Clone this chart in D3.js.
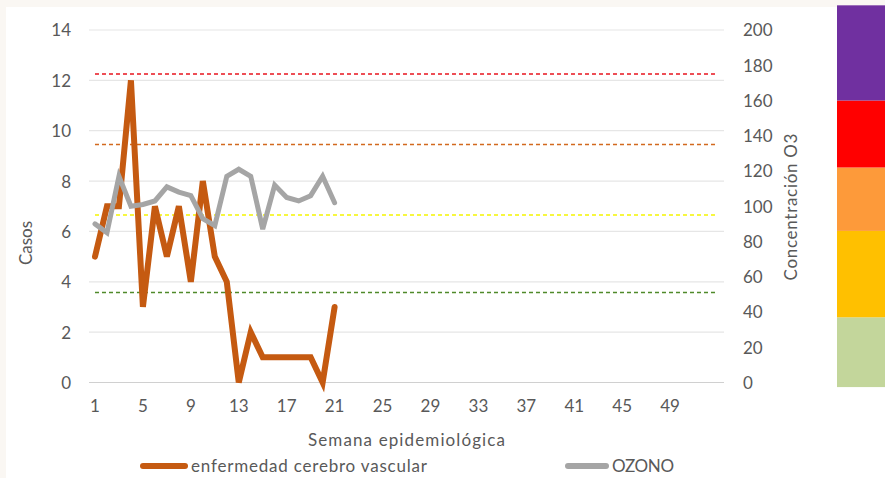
<!DOCTYPE html>
<html><head><meta charset="utf-8">
<script src="https://cdn.jsdelivr.net/npm/d3@7"></script>
<style>
html,body{margin:0;padding:0;background:#faf7f3;}
svg{display:block;}
text{font-family:Lato,"Open Sans",sans-serif;fill:#595959;}
</style></head>
<body>
<svg id="chart" width="885" height="478"></svg>
<script>
// ---- data ----
const weeks = d3.range(1, 54);              // 53 epidemiological weeks
const weekTicks = [1,5,9,13,17,21,25,29,33,37,41,45,49];
const casos = [5,7,7,12,3,7,5,7,4,8,5,4,0,2,1,1,1,1,1,0,3];
const ozono = [90,85,117,100,101,103,111,108,106,93,89,117,121,117,87,112,105,103,106,117,102];
const leftTicks = [0,2,4,6,8,10,12,14];
const rightTicks = [0,20,40,60,80,100,120,140,160,180,200];
const thresholdValues = [51,95,135,175];
const thresholdColors = ["#4f8a2a","#f5f500","#d2691e","#e8141e"];
const bandStops = [-2.6,37,86,122,160,214];
const bandColors = ["#c3d69b","#ffc000","#fd9a3a","#ff0000","#7030a0"];
const seriesNames = ["enfermedad cerebro vascular","OZONO"];
const seriesColors = ["#c55a11","#a5a5a5"];

// ---- layout ----
const svg = d3.select("#chart");
const L = 89, R = 724, T = 30, B = 382.5;
svg.append("rect").attr("x",6).attr("y",7).attr("width",879).attr("height",471).attr("fill","#ffffff");

const x = d3.scaleBand().domain(weeks).range([L, R]);
const xc = d => x(d) + x.bandwidth()/2;
const yL = d3.scaleLinear().domain([0,14]).range([B, T]);
const yR = d3.scaleLinear().domain([0,200]).range([B, T]);

// gridlines
svg.append("g").selectAll("line").data(leftTicks).join("line")
  .attr("x1", L).attr("x2", R)
  .attr("y1", d => yL(d)).attr("y2", d => yL(d))
  .attr("stroke", d => d===0 ? "#d0d0d0" : "#e6e6e6").attr("stroke-width", 1.2);

// axes
const gl = svg.append("g").attr("transform", `translate(${L-18},0)`)
  .call(d3.axisLeft(yL).tickValues(leftTicks).tickSize(0).tickPadding(0));
gl.select(".domain").remove();
gl.selectAll("text").style("font-size","17px").attr("fill","#595959").attr("dy","0.35em");

const gr = svg.append("g").attr("transform", `translate(${R+19},0)`)
  .call(d3.axisRight(yR).tickValues(rightTicks).tickSize(0).tickPadding(0));
gr.select(".domain").remove();
gr.selectAll("text").style("font-size","17px").attr("fill","#595959").attr("dy","0.35em");

const gx = svg.append("g").attr("transform", `translate(0,${B+17})`)
  .call(d3.axisBottom(x).tickValues(weekTicks).tickSize(0).tickPadding(0));
gx.select(".domain").remove();
gx.selectAll("text").style("font-size","17px").attr("fill","#595959").attr("dy","0.75em");

// threshold dashed lines (right axis units)
const lineR = d3.line().x(d => xc(d.w)).y(d => yR(d.v));
thresholdValues.forEach((v,i) => {
  svg.append("path").datum(weeks.map(w => ({w, v})))
    .attr("d", lineR).attr("fill","none")
    .attr("stroke", thresholdColors[i]).attr("stroke-width",1.5)
    .attr("stroke-dasharray","4,3");
});

// series
const lineL = d3.line().x((d,i) => xc(weeks[i])).y(d => yL(d));
const lineO = d3.line().x((d,i) => xc(weeks[i])).y(d => yR(d));
svg.append("path").datum(casos).attr("d", lineL).attr("fill","none")
  .attr("stroke", seriesColors[0]).attr("stroke-width",6).attr("stroke-linejoin","miter").attr("stroke-linecap","round");
svg.append("path").datum(ozono).attr("d", lineO).attr("fill","none")
  .attr("stroke", seriesColors[1]).attr("stroke-width",5).attr("stroke-linejoin","miter").attr("stroke-linecap","round");

// axis titles
svg.append("text").attr("transform","translate(32,243) rotate(-90)")
  .attr("text-anchor","middle").style("font-size","17px").text("Casos");
svg.append("text").attr("transform","translate(797,207) rotate(-90)")
  .attr("text-anchor","middle").style("font-size","17px")
  .attr("textLength",147).attr("lengthAdjust","spacing").text("Concentración O3");
svg.append("text").attr("x",308).attr("y",446)
  .style("font-size","17px").attr("textLength",197).attr("lengthAdjust","spacing")
  .text("Semana epidemiológica");

// legend
const legX = [140, 565], legW = [48, 44], legTextW = [236, 62];
seriesNames.forEach((n,i) => {
  svg.append("line").attr("x1", legX[i]+3).attr("x2", legX[i]+legW[i]-3)
    .attr("y1",466).attr("y2",466).attr("stroke",seriesColors[i])
    .attr("stroke-width",6).attr("stroke-linecap","round");
  svg.append("text").attr("x", legX[i]+legW[i]+3).attr("y",472)
    .style("font-size","17px").attr("textLength",legTextW[i]).attr("lengthAdjust","spacing").text(n);
});

// colour scale bar (right axis units)
svg.append("g").selectAll("rect").data(bandColors).join("rect")
  .attr("x",837).attr("width",48)
  .attr("y",(d,i) => yR(bandStops[i+1]))
  .attr("height",(d,i) => yR(bandStops[i]) - yR(bandStops[i+1]))
  .attr("fill", d => d);
</script>
</body></html>
